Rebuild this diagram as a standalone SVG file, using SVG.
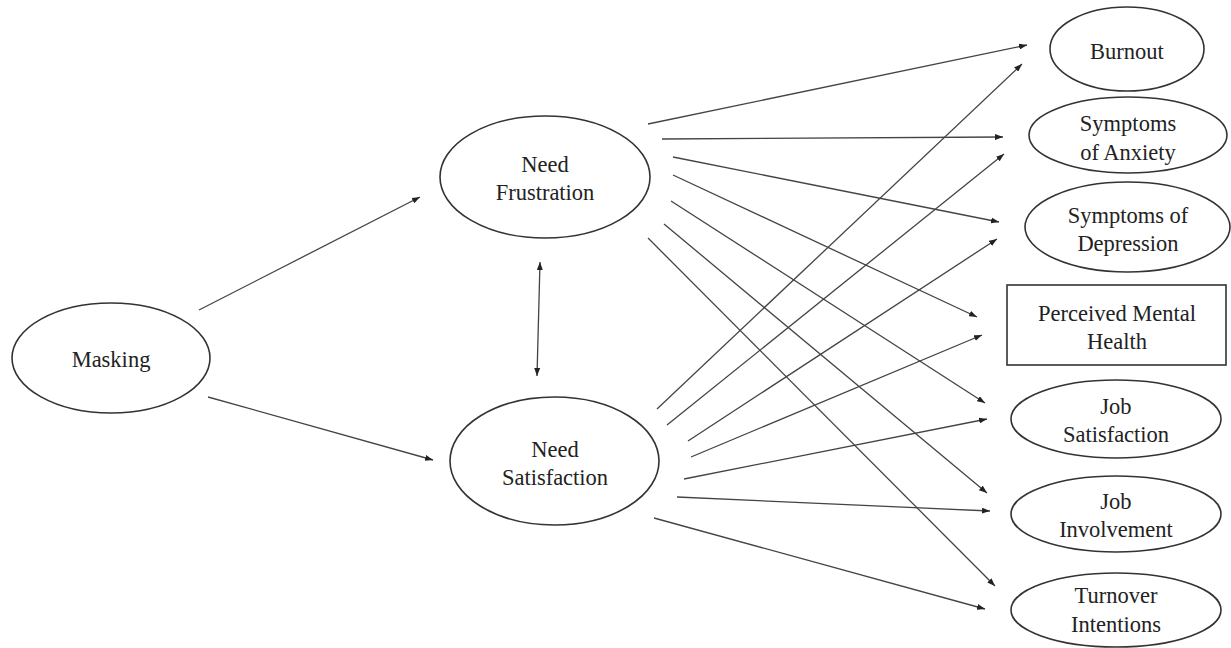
<svg xmlns="http://www.w3.org/2000/svg" width="1231" height="648" viewBox="0 0 1231 648">
<style>
.node ellipse, .node rect { fill: #ffffff; stroke: #333333; stroke-width: 1.6; }
.node text { font-family: 'Liberation Serif', 'DejaVu Serif', serif; font-size: 22.5px; fill: #222222; text-anchor: middle; }
.edges line { stroke: #444444; stroke-width: 1.3; fill: none; marker-end: url(#arr); }
</style>
<defs>
<marker id="arr" markerUnits="userSpaceOnUse" markerWidth="9" markerHeight="6" refX="8" refY="3" orient="auto-start-reverse">
<path d="M0,0 L8,3 L0,6 z" fill="#222222"/>
</marker>
</defs>
<rect x="0" y="0" width="1231" height="648" fill="#ffffff"/>
<g class="edges" id="connectors">
<line x1="199" y1="310" x2="420" y2="197"/>
<line x1="208" y1="397" x2="433" y2="460"/>
<line x1="540" y1="262" x2="537" y2="376" marker-start="url(#arr)"/>
<line x1="648" y1="124" x2="1027" y2="45"/>
<line x1="662" y1="139" x2="1003" y2="137"/>
<line x1="673" y1="157" x2="999" y2="222"/>
<line x1="673" y1="175" x2="977" y2="317"/>
<line x1="671" y1="201" x2="985" y2="403"/>
<line x1="664" y1="224" x2="987" y2="493"/>
<line x1="648" y1="238" x2="995" y2="586"/>
<line x1="657" y1="409" x2="1022" y2="64"/>
<line x1="667" y1="425" x2="1004" y2="154"/>
<line x1="688" y1="441" x2="997" y2="239"/>
<line x1="691" y1="457" x2="982" y2="335"/>
<line x1="684" y1="479" x2="987" y2="419"/>
<line x1="677" y1="497" x2="990" y2="511"/>
<line x1="654" y1="518" x2="985" y2="609"/>
</g>
<g class="node" id="masking" font-family="Liberation Serif, serif">
<ellipse cx="111" cy="358" rx="99" ry="55"/>
<text x="111" y="367">Masking</text>
</g>
<g class="node" id="need-frustration" font-family="Liberation Serif, serif">
<ellipse cx="545" cy="177" rx="105" ry="61"/>
<text x="545" y="172">Need</text>
<text x="545" y="200">Frustration</text>
</g>
<g class="node" id="need-satisfaction" font-family="Liberation Serif, serif">
<ellipse cx="554.5" cy="461" rx="104.5" ry="64"/>
<text x="555" y="457">Need</text>
<text x="555" y="485">Satisfaction</text>
</g>
<g class="node" id="burnout" font-family="Liberation Serif, serif">
<ellipse cx="1127" cy="49" rx="77" ry="42"/>
<text x="1127" y="59">Burnout</text>
</g>
<g class="node" id="anxiety" font-family="Liberation Serif, serif">
<ellipse cx="1128" cy="135" rx="99" ry="38"/>
<text x="1128" y="131">Symptoms</text>
<text x="1128" y="160">of Anxiety</text>
</g>
<g class="node" id="depression" font-family="Liberation Serif, serif">
<ellipse cx="1127.5" cy="227" rx="102.5" ry="45"/>
<text x="1128" y="223">Symptoms of</text>
<text x="1128" y="251">Depression</text>
</g>
<g class="node" id="mental-health" font-family="Liberation Serif, serif">
<rect x="1007" y="285" width="219" height="80"/>
<text x="1117" y="321">Perceived Mental</text>
<text x="1117" y="349">Health</text>
</g>
<g class="node" id="job-satisfaction" font-family="Liberation Serif, serif">
<ellipse cx="1116" cy="419" rx="105" ry="39"/>
<text x="1116" y="414">Job</text>
<text x="1116" y="442">Satisfaction</text>
</g>
<g class="node" id="job-involvement" font-family="Liberation Serif, serif">
<ellipse cx="1116" cy="514" rx="105" ry="38"/>
<text x="1116" y="509">Job</text>
<text x="1116" y="537">Involvement</text>
</g>
<g class="node" id="turnover" font-family="Liberation Serif, serif">
<ellipse cx="1116" cy="610" rx="105" ry="37"/>
<text x="1116" y="603">Turnover</text>
<text x="1116" y="632">Intentions</text>
</g>
</svg>
